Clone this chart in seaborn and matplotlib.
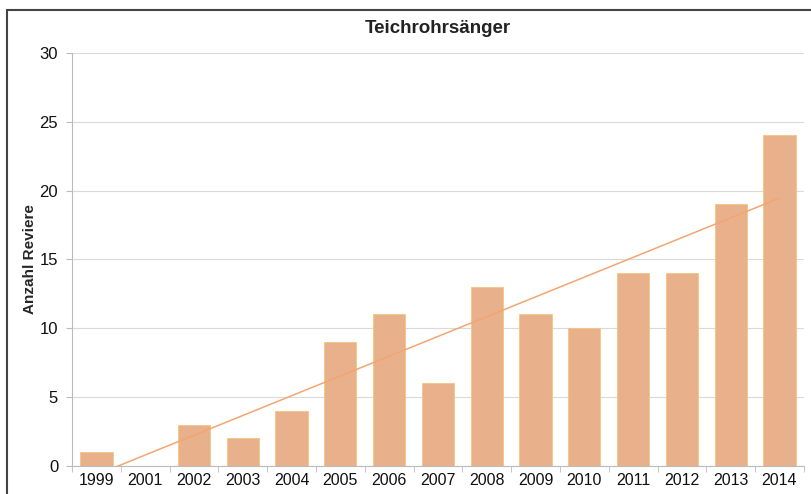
import numpy as np
import pandas as pd
import seaborn as sns
import matplotlib.pyplot as plt
from matplotlib.patches import Rectangle

years = ["1999", "2001", "2002", "2003", "2004", "2005", "2006", "2007",
         "2008", "2009", "2010", "2011", "2012", "2013", "2014"]
reviere = [1, 0, 3, 2, 4, 9, 11, 6, 13, 11, 10, 14, 14, 19, 24]

df = pd.DataFrame({"Jahr": years, "Reviere": reviere, "idx": range(len(years))})

sns.set_style("white")
plt.rcParams["font.family"] = ["Liberation Sans", "DejaVu Sans"]

fig = plt.figure(figsize=(8.12, 4.94), dpi=100)
ax = fig.add_axes([0.0887, 0.057, 0.9013, 0.836])

sns.barplot(data=df, x="Jahr", y="Reviere", color="#E9B08C", saturation=1,
            width=0.66, edgecolor="#F2C77A", linewidth=0.6, ax=ax, zorder=2)
# linear trend line (like Excel)
sns.regplot(data=df, x="idx", y="Reviere", scatter=False, ci=None, ax=ax,
            line_kws={"color": "#F3A672", "lw": 1.1, "zorder": 3})

ax.set_xlim(-0.5, len(years) - 0.5)
ax.set_ylim(0, 30)
ax.set_yticks(range(0, 31, 5))
ax.set_xticks(range(len(years)))
ax.set_xticklabels(years)
ax.yaxis.grid(True, color="#DADADA", lw=0.8, zorder=0)
ax.set_axisbelow(True)

for s in ["top", "right"]:
    ax.spines[s].set_visible(False)
ax.spines["left"].set_color("#BBBBBB")
ax.spines["bottom"].set_color("#BBBBBB")
ax.spines["left"].set_linewidth(0.8)
ax.spines["bottom"].set_linewidth(0.8)

ax.set_xticks(np.arange(-0.5, len(years), 1), minor=True)
ax.tick_params(axis="x", which="major", length=0, labelsize=11.5, pad=5, colors="#111111")
ax.tick_params(axis="x", which="minor", length=4, color="#BBBBBB", bottom=True)
ax.tick_params(axis="y", length=4, labelsize=12, left=True, pad=6,
               color="#BBBBBB", labelcolor="#111111")

ax.set_xlabel("")
ax.set_ylabel("Anzahl Reviere", fontsize=11, fontweight="bold")
ax.yaxis.set_label_coords(-0.048, 0.5)
ax.set_title("Teichrohrsänger", fontsize=13.5, fontweight="bold", pad=14, color="#222222")

fig.patches.append(Rectangle((0.009, -0.05), 1.0, 1.03, transform=fig.transFigure,
                             fill=False, edgecolor="#444444", lw=1.5))

fig.savefig("out.png", dpi=100)
